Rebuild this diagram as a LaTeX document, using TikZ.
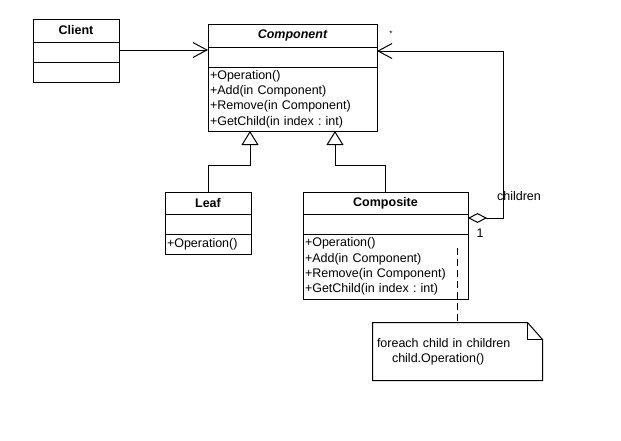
\documentclass[tikz,border=0pt]{standalone}
\usepackage{fontspec}
\setmainfont{Liberation Sans}
\usetikzlibrary{positioning,arrows.meta}
\frenchspacing

\newcommand{\umlfont}{\fontsize{12.5}{15.3}\selectfont\frenchspacing}

\tikzset{
  hdr/.style={draw, font=\umlfont\bfseries, inner sep=0pt, outer sep=0pt},
  cmp/.style={draw, inner sep=0pt, outer sep=0pt, minimum height=20pt},
  ops/.style={draw, font=\umlfont, align=left, inner xsep=2pt, inner ysep=0pt, outer sep=0pt},
  assoc/.style={-{Straight Barb[length=14pt,width=15pt]}},
  inherit/.style={-{Triangle[open,length=14pt,width=17pt]}},
  aggr/.style={{Diamond[open,length=19pt,width=10pt]}-{Straight Barb[length=14pt,width=15pt]}},
}

\begin{document}
\begin{tikzpicture}[x=1pt, y=-1pt, line width=1pt, font=\umlfont]
  \useasboundingbox (0,0) rectangle (621,440);

  % classes
  \node[hdr, minimum width=86pt, minimum height=23pt] (clihdr) at (76,30.5) {Client};
  \node[cmp, minimum width=86pt, below=0pt of clihdr] (cliattr) {};
  \node[cmp, minimum width=86pt, below=0pt of cliattr] (cliops) {};

  \node[hdr, minimum width=169pt, minimum height=23pt] (comphdr) at (292.5,35.5) {\itshape Component};
  \node[cmp, minimum width=169pt, below=0pt of comphdr] (compattr) {};
  \node[ops, text width=165pt, minimum height=64pt, below=0pt of compattr] (compops)
    {+Operation()\\+Add(in Component)\\+Remove(in Component)\\+GetChild(in index : int)};

  \node[hdr, minimum width=86pt, minimum height=22pt] (leafhdr) at (208,203) {Leaf};
  \node[cmp, minimum width=86pt, below=0pt of leafhdr] (leafattr) {};
  \node[ops, text width=82pt, minimum height=20pt, below=0pt of leafattr] (leafops) {+Operation()};

  \node[hdr, minimum width=165pt, minimum height=22pt] (cmphdr) at (385.5,203) {Composite};
  \node[cmp, minimum width=165pt, below=0pt of cmphdr] (cmpattr) {};
  \node[ops, text width=161pt, minimum height=65pt, below=0pt of cmpattr] (cmpops)
    {+Operation()\\+Add(in Component)\\+Remove(in Component)\\+GetChild(in index : int)};

  % note
  \node[align=left, text width=161pt, inner xsep=4pt, minimum height=57pt] (note) at (457.5,351.5)
    {foreach child in children\\\hspace*{15pt}child.Operation()};
  \draw (note.north west) -- ([xshift=-15pt]note.north east) -- ([yshift=-17pt]note.north east)
    -- (note.south east) -- (note.south west) -- cycle;
  \draw ([xshift=-15pt]note.north east) |- ([yshift=-17pt]note.north east);
  \coordinate (hook) at (457.5,248);
  \draw[dash pattern=on 7pt off 4pt] (hook) -- (note.north);

  % relations
  \draw[assoc] ([yshift=2pt]cliattr.east) -- ([yshift=2pt]cliattr.east -| compattr.west);
  \draw[inherit] (leafhdr.north) -- ++(0,-27) -| ([xshift=-42.5pt]compops.south);
  \draw[inherit] (cmphdr.north) -- ++(0,-27) -| ([xshift=42.5pt]compops.south);
  \draw[aggr] ([yshift=6pt]cmpattr.east) -- ++(35,0) |- ([yshift=6pt]compattr.east);

  % labels
  \node[font=\fontsize{8}{9}\selectfont] (star) at (391,34) {*};
  \node (role) at (519,196) {children};
  \node (mult) at (480,233) {1};
\end{tikzpicture}
\end{document}
